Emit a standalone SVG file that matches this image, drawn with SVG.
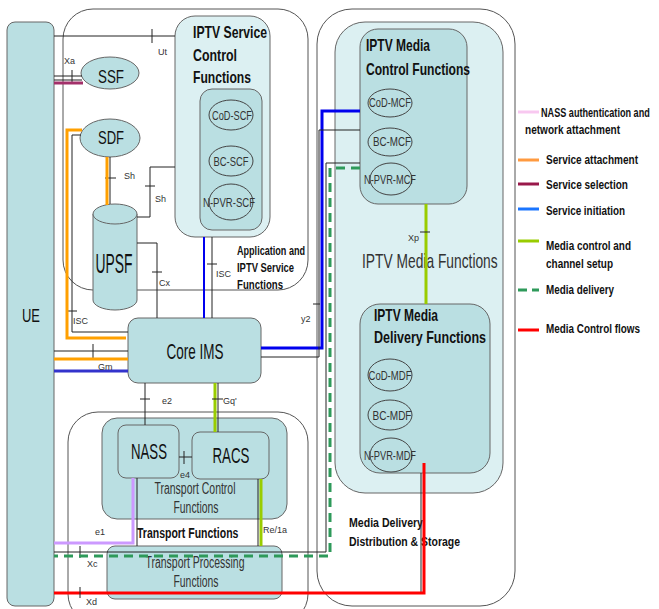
<svg xmlns="http://www.w3.org/2000/svg" width="659" height="609" viewBox="0 0 659 609">
<style>
text{font-family:"Liberation Sans",Arial,sans-serif;fill:#111}
.b{font-weight:bold}
.m{text-anchor:middle}
.t{fill:#333}
.s{font-size:9px;fill:#333}
.dk{fill:#badfe2;stroke:#666;stroke-width:1}
.lt{fill:#dcf0f2;stroke:#666;stroke-width:1}
.box{fill:none;stroke:#555;stroke-width:1}
.el{fill:#badfe2;stroke:#444;stroke-width:1}
.k{fill:none;stroke:#222;stroke-width:1}
.or{fill:none;stroke:#ffa000;stroke-width:3}
.bl{fill:none;stroke:#0000ee;stroke-width:3}
.gr{fill:none;stroke:#99cc00;stroke-width:3}
.gd{fill:none;stroke:#2e9a5a;stroke-width:3;stroke-dasharray:9 6}
.rd{fill:none;stroke:#ff0000;stroke-width:3}
.pu{fill:none;stroke:#cc99ff;stroke-width:3}
.mg{fill:none;stroke:#a3306a;stroke-width:3}
.leg{font-size:12px;font-weight:bold}
</style>
<rect width="659" height="609" fill="#fff"/>

<g id="app-container">
<rect class="box" x="63" y="9" width="245" height="281" rx="30"/>
<text class="b" font-size="13" x="237" y="255" textLength="68" lengthAdjust="spacingAndGlyphs">Application and</text>
<text class="b" font-size="13" x="237" y="272" textLength="57" lengthAdjust="spacingAndGlyphs">IPTV Service</text>
<text class="b" font-size="13" x="237" y="289" textLength="46" lengthAdjust="spacingAndGlyphs">Functions</text>
</g>

<g id="media-container">
<rect class="box" x="317" y="9" width="198" height="597" rx="35"/>
<rect class="lt" x="335" y="22" width="168" height="471" rx="30"/>
<text font-size="20" transform="translate(362,268) scale(0.69,1)" class="t">IPTV Media Functions</text>
<text class="b" font-size="13" x="349" y="527" textLength="74" lengthAdjust="spacingAndGlyphs">Media Delivery</text>
<text class="b" font-size="13" x="349" y="546" textLength="111" lengthAdjust="spacingAndGlyphs">Distribution &amp; Storage</text>
</g>

<g id="transport-container">
<rect class="box" x="68" y="412" width="240" height="212" rx="30"/>
<text class="b" font-size="14" transform="translate(137,538) scale(0.75,1)">Transport Functions</text>
</g>

<g id="UE">
<rect class="dk" x="7" y="22" width="47" height="584" rx="8"/>
<text class="m" font-size="19" x="31" y="322" textLength="18" lengthAdjust="spacingAndGlyphs">UE</text>
</g>

<g id="SCF">
<rect class="lt" x="175" y="16" width="95" height="221" rx="20"/>
<text class="b" font-size="17" x="193" y="38" textLength="74" lengthAdjust="spacingAndGlyphs">IPTV Service</text>
<text class="b" font-size="17" x="193" y="61" textLength="44" lengthAdjust="spacingAndGlyphs">Control</text>
<text class="b" font-size="17" x="193" y="83" textLength="58" lengthAdjust="spacingAndGlyphs">Functions</text>
<rect class="dk" x="200" y="89" width="62" height="141" rx="12"/>
</g>
<g id="CoD-SCF"><ellipse class="el" cx="231" cy="115" rx="22" ry="15"/><text class="m t" font-size="13" x="232" y="120" textLength="40" lengthAdjust="spacingAndGlyphs">CoD-SCF</text></g>
<g id="BC-SCF"><ellipse class="el" cx="231" cy="161" rx="22" ry="15"/><text class="m t" font-size="13" x="231" y="166" textLength="35" lengthAdjust="spacingAndGlyphs">BC-SCF</text></g>
<g id="N-PVR-SCF"><ellipse class="el" cx="231" cy="202" rx="22" ry="18"/><text class="m t" font-size="13" x="229" y="207" textLength="52" lengthAdjust="spacingAndGlyphs">N-PVR-SCF</text></g>

<g id="SSF"><ellipse class="dk" cx="110" cy="73" rx="29" ry="16"/><text class="m" font-size="18" x="111" y="83" textLength="26" lengthAdjust="spacingAndGlyphs">SSF</text></g>
<g id="SDF"><ellipse class="dk" cx="110" cy="138" rx="30" ry="19"/><text class="m" font-size="18" x="111" y="144" textLength="26" lengthAdjust="spacingAndGlyphs">SDF</text></g>
<g id="UPSF">
<path class="dk" d="M93,214 V300 A22,10 0 0 0 137,300 V214 Z"/>
<ellipse class="dk" cx="115" cy="214" rx="22" ry="10"/>
<text class="m" font-size="27" x="114" y="273" textLength="37" lengthAdjust="spacingAndGlyphs">UPSF</text>
</g>

<g id="CoreIMS"><rect class="dk" x="128" y="318" width="133" height="65" rx="10"/><text class="m" font-size="22" x="195" y="359" textLength="57" lengthAdjust="spacingAndGlyphs">Core IMS</text></g>

<g id="TCF"><rect class="dk" x="102" y="418" width="185" height="101" rx="15"/>
<text class="m t" font-size="16" x="195" y="494" textLength="81" lengthAdjust="spacingAndGlyphs">Transport Control</text>
<text class="m t" font-size="16" x="196" y="513" textLength="45" lengthAdjust="spacingAndGlyphs">Functions</text></g>
<g id="NASS"><rect class="dk" x="118" y="425" width="61" height="53" rx="8"/><text class="m" font-size="22" x="149" y="459" textLength="36" lengthAdjust="spacingAndGlyphs">NASS</text></g>
<g id="RACS"><rect class="dk" x="192" y="432" width="77" height="47" rx="8"/><text class="m" font-size="22" x="231" y="463" textLength="37" lengthAdjust="spacingAndGlyphs">RACS</text></g>
<g id="TPF"><rect class="dk" x="107" y="546" width="175" height="53" rx="8"/>
<text class="m t" font-size="16" x="195" y="568" textLength="99" lengthAdjust="spacingAndGlyphs">Transport Processing</text>
<text class="m t" font-size="16" x="196" y="587" textLength="45" lengthAdjust="spacingAndGlyphs">Functions</text></g>

<g id="MCF"><rect class="dk" x="360" y="29" width="107" height="175" rx="18"/>
<text class="b" font-size="17" x="366" y="51" textLength="64" lengthAdjust="spacingAndGlyphs">IPTV Media</text>
<text class="b" font-size="17" x="366" y="75" textLength="104" lengthAdjust="spacingAndGlyphs">Control Functions</text></g>
<g id="CoD-MCF"><ellipse class="el" cx="390" cy="103" rx="22" ry="14"/><text class="m t" font-size="13" x="390" y="107" textLength="42" lengthAdjust="spacingAndGlyphs">CoD-MCF</text></g>
<g id="BC-MCF"><ellipse class="el" cx="390" cy="142" rx="22" ry="14"/><text class="m t" font-size="13" x="392" y="146" textLength="38" lengthAdjust="spacingAndGlyphs">BC-MCF</text></g>
<g id="N-PVR-MCF"><ellipse class="el" cx="391" cy="179" rx="21" ry="16"/><text class="m t" font-size="13" x="390" y="184" textLength="52" lengthAdjust="spacingAndGlyphs">N-PVR-MCF</text></g>

<g id="MDF"><rect class="dk" x="360" y="304" width="130" height="169" rx="20"/>
<text class="b" font-size="17" x="374" y="321" textLength="64" lengthAdjust="spacingAndGlyphs">IPTV Media</text>
<text class="b" font-size="17" x="374" y="343" textLength="112" lengthAdjust="spacingAndGlyphs">Delivery  Functions</text></g>
<g id="CoD-MDF"><ellipse class="el" cx="390" cy="375" rx="22" ry="16"/><text class="m t" font-size="13" x="390" y="380" textLength="43" lengthAdjust="spacingAndGlyphs">CoD-MDF</text></g>
<g id="BC-MDF"><ellipse class="el" cx="390" cy="415" rx="22" ry="15"/><text class="m t" font-size="13" x="392" y="420" textLength="39" lengthAdjust="spacingAndGlyphs">BC-MDF</text></g>
<g id="N-PVR-MDF"><ellipse class="el" cx="391" cy="455" rx="21" ry="17"/><text class="m t" font-size="13" x="390" y="460" textLength="52" lengthAdjust="spacingAndGlyphs">N-PVR-MDF</text></g>

<g id="connectors">
<path class="k" d="M54,36 H175 M152,29 V43"/>
<path class="k" d="M54,76 H82 M54,80 H82 M72,70 V82"/>
<path class="mg" d="M54,83 H83"/>
<path class="k" d="M81,135 H72 V332 H128 M67,311 H77"/>
<path class="or" d="M82,130 H67 V338 H126"/>
<path class="k" d="M110,157 V204 M105,178 H116"/>
<path class="or" d="M107,157 V205"/>
<path class="k" d="M137,217 H150 V167 H175 M145,186 H155"/>
<path class="k" d="M137,243 H157 V318 M152,272 H162"/>
<path class="bl" d="M204,237 V318" style="stroke-width:2"/>
<path class="k" d="M212,237 V318 M207,264 H217"/>
<path class="k" d="M54,351 H128 M93,344 V358"/>
<path class="or" d="M54,359 H128"/>
<path class="bl" d="M54,371 H128" style="stroke:#3333cc"/>
<path class="bl" d="M261,348 H322 V111 H360"/>
<path class="k" d="M261,357 H319 V130 H360 M313,304 H320"/>
<path class="k" d="M360,163 H326 V552 H54 M80,546 V558"/>
<path class="gd" d="M360,168 H330 V556 H54"/>
<path class="k" d="M145,383 V425 M140,399 H150"/>
<path class="gr" d="M215,383 V432"/>
<path class="k" d="M218,383 V432 M212,399 H223"/>
<path class="k" d="M179,457 H192 M184,451 V464"/>
<path class="pu" d="M133,478 V543 H54"/>
<path class="k" d="M137,478 V546"/>
<path class="k" d="M258,479 V546"/>
<path class="gr" d="M261,479 V546"/>
<path class="gr" d="M426,204 V304"/>
<path class="k" d="M420,232 H430"/>
<path class="k" d="M421,473 V592"/>
<path class="rd" d="M424,463 V593 H54"/>
<path class="k" d="M80,587 V598"/>
<text class="s" x="158" y="55">Ut</text>
<text class="s" x="64" y="64">Xa</text>
<text class="s" x="124" y="179">Sh</text>
<text class="s" x="155" y="202">Sh</text>
<text class="s" x="159" y="286">Cx</text>
<text class="s" x="216" y="277">ISC</text>
<text class="s" x="73" y="324">ISC</text>
<text class="s" x="98" y="370">Gm</text>
<text class="s" x="301" y="322">y2</text>
<text class="s" x="162" y="404">e2</text>
<text class="s" x="223" y="404">Gq'</text>
<text class="s" x="180" y="478">e4</text>
<text class="s" x="95" y="535">e1</text>
<text class="s" x="263" y="533">Re/1a</text>
<text class="s" x="87" y="567">Xc</text>
<text class="s" x="86" y="605">Xd</text>
<text class="s" x="408" y="241">Xp</text>
</g>

<g id="legend">
<path d="M518,112 H539" stroke="#f8c8f0" stroke-width="3"/>
<text class="leg" transform="translate(541,117) scale(0.76,1)">NASS authentication and</text>
<text class="leg" x="525" y="134" textLength="95" lengthAdjust="spacingAndGlyphs">network attachment</text>
<path d="M518,160 H539" stroke="#ff9a40" stroke-width="3"/>
<text class="leg" x="546" y="164" textLength="92" lengthAdjust="spacingAndGlyphs">Service attachment</text>
<path d="M518,184 H539" stroke="#99184a" stroke-width="3"/>
<text class="leg" x="546" y="189" textLength="82" lengthAdjust="spacingAndGlyphs">Service selection</text>
<path d="M518,209 H539" stroke="#1a75ff" stroke-width="3"/>
<text class="leg" x="546" y="215" textLength="79" lengthAdjust="spacingAndGlyphs">Service initiation</text>
<path d="M518,241 H539" stroke="#99cc00" stroke-width="3"/>
<text class="leg" x="546" y="250" textLength="85" lengthAdjust="spacingAndGlyphs">Media control and</text>
<text class="leg" x="546" y="268" textLength="67" lengthAdjust="spacingAndGlyphs">channel setup</text>
<path d="M518,290 H539" stroke="#2e9a5a" stroke-width="3" stroke-dasharray="9 5"/>
<text class="leg" x="546" y="294" textLength="68" lengthAdjust="spacingAndGlyphs">Media delivery</text>
<path d="M518,330 H539" stroke="#ff0000" stroke-width="3"/>
<text class="leg" x="546" y="333" textLength="94" lengthAdjust="spacingAndGlyphs">Media Control flows</text>
</g>
</svg>
